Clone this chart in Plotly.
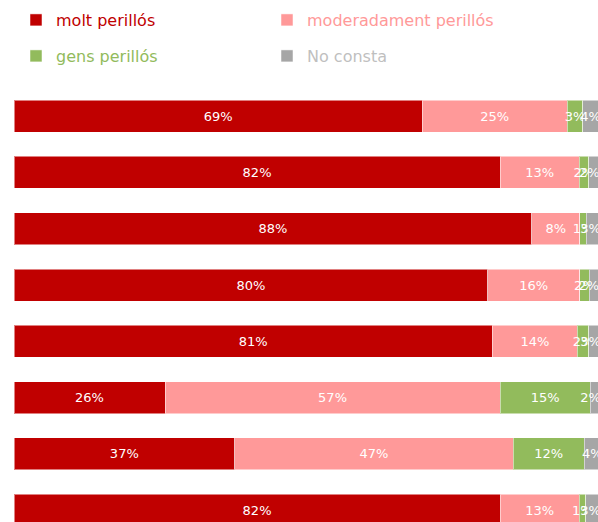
import plotly.graph_objects as go

rows = ["1", "2", "3", "4", "5", "6", "7", "8"]
# shares; labels show them rounded
molt = [69.2, 82.4, 87.8, 80.3, 81.1, 25.6, 37.4, 82.4]
moderadament = [24.6, 13.4, 8.1, 15.6, 14.4, 56.8, 47.2, 13.4]
gens = [2.6, 1.6, 1.1, 1.6, 1.9, 15.3, 12.1, 1.1]
no_consta = [3.6, 2.4, 3.0, 2.2, 2.6, 2.3, 3.6, 3.1]

W, H = 598, 522

series = [
    ("molt perillós", molt, "#C00000", "#C00000", "legend", 16, 20, "middle"),
    ("moderadament perillós", moderadament, "#FF9999", "#FF9999", "legend2", 267, 20, "middle"),
    ("gens perillós", gens, "#92BB5C", "#92BB5C", "legend3", 16, 56, "middle"),
    ("No consta", no_consta, "#A6A6A6", "#BFBFBF", "legend4", 267, 56, "end"),
]

fig = go.Figure()
layout_legends = {}
for name, vals, color, text_color, leg, lx, ly, anchor in series:
    fig.add_trace(
        go.Bar(
            y=rows,
            x=vals,
            name=name,
            orientation="h",
            marker=dict(color=color, line=dict(width=1, color="rgba(255,255,255,0.5)")),
            texttemplate="%{x:.0f}%",
            textposition="inside",
            insidetextanchor=anchor,
            textangle=0,
            textfont=dict(color="white", size=13, family="DejaVu Sans"),
            legend=leg,
            showlegend=True,
            hovertemplate=f"{name}: %{{x:.0f}}%<extra></extra>",
        )
    )
    # one legend per series so each label keeps its own colour
    layout_legends[leg] = dict(
        xref="container",
        yref="container",
        x=lx / W,
        y=1 - ly / H,
        xanchor="left",
        yanchor="middle",
        bgcolor="rgba(0,0,0,0)",
        font=dict(family="DejaVu Sans", size=16, color=text_color),
    )

fig.update_layout(
    barmode="stack",
    bargap=0.432,
    width=W,
    height=H,
    showlegend=True,
    margin=dict(l=14, r=0, t=88, b=0, autoexpand=False),
    plot_bgcolor="white",
    paper_bgcolor="white",
    uniformtext=dict(minsize=13, mode="show"),
    xaxis=dict(range=[0, 99], visible=False, fixedrange=True),
    yaxis=dict(type="category", range=[7.21, -0.5], visible=False, fixedrange=True),
    **layout_legends,
)

# drop the default body margin so the fixed-size figure fills the window
fig.write_html(
    "out.html",
    config={"displayModeBar": False},
    post_script="document.body.style.margin='0';",
)
